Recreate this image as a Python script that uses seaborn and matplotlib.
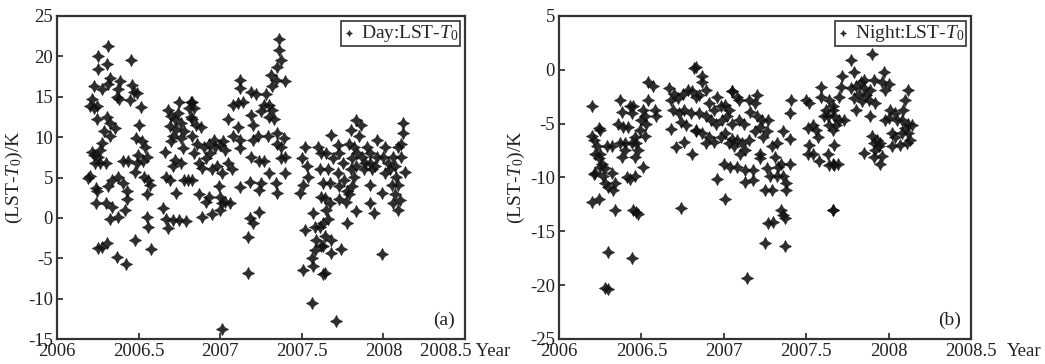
import matplotlib
matplotlib.use("Agg")
import matplotlib.pyplot as plt
import seaborn as sns
import pandas as pd

# ---------------- data ----------------
day_year = [
    2006.315, 2006.254, 2006.305, 2006.254, 2006.451, 2006.325, 2006.224, 2006.274, 2006.315, 2006.386,
    2006.376, 2006.366, 2006.38, 2006.457, 2006.47, 2006.488, 2006.447, 2006.213, 2006.203, 2006.224,
    2006.244, 2006.512, 2006.244, 2006.305, 2006.325, 2006.356, 2006.285, 2006.325, 2006.504, 2006.484,
    2006.518, 2006.539, 2006.274, 2006.264, 2006.213, 2006.224, 2006.254, 2006.234, 2006.264, 2006.30,
    2006.406, 2006.437, 2006.498, 2006.488, 2006.528, 2006.549, 2006.478, 2006.532, 2006.559, 2006.569,
    2006.553, 2006.193, 2006.203, 2006.24, 2006.244, 2006.315, 2006.335, 2006.376, 2006.406, 2006.427,
    2006.427, 2006.24, 2006.30, 2006.335, 2006.417, 2006.325, 2006.376, 2006.549, 2006.559, 2006.254,
    2006.274, 2006.309, 2006.478, 2006.579, 2006.37, 2006.423,
    2006.65, 2006.66, 2006.68, 2006.70, 2006.69, 2006.72, 2006.75, 2006.74, 2006.73, 2006.71,
    2006.76, 2006.78, 2006.81, 2006.82, 2006.83, 2006.67, 2006.69, 2006.71, 2006.72, 2006.76,
    2006.78, 2006.80, 2006.73, 2006.67, 2006.71, 2006.75, 2006.79, 2006.68, 2006.70, 2006.76, 2006.77,
    2006.83, 2006.84, 2006.82, 2006.85, 2006.88, 2006.83, 2006.86, 2006.84, 2006.90, 2006.93,
    2006.96, 2006.97, 2007.00, 2007.02, 2007.03, 2006.94, 2006.91, 2006.87, 2006.89, 2006.95,
    2006.98, 2007.01, 2007.05, 2007.07, 2006.83, 2006.87, 2006.91, 2006.93, 2006.99, 2007.00,
    2007.01, 2007.00, 2007.03, 2007.06, 2006.89, 2006.95, 2007.01, 2007.05, 2007.08, 2007.11,
    2007.11, 2007.08, 2007.12, 2007.12, 2007.12, 2007.14, 2007.12, 2007.12, 2007.19, 2007.22,
    2007.19, 2007.20, 2007.20, 2007.23, 2007.19, 2007.18, 2007.24, 2007.25, 2007.24, 2007.24,
    2007.18, 2007.20, 2007.17, 2007.17, 2007.25, 2007.27, 2007.28, 2007.30, 2007.30, 2007.32,
    2007.33, 2007.29, 2007.27, 2007.30, 2007.31, 2007.32, 2007.34, 2007.35, 2007.37, 2007.36,
    2007.36, 2007.40, 2007.35, 2007.35, 2007.37, 2007.39, 2007.40, 2007.37, 2007.34, 2007.35, 2007.40,
    2007.52, 2007.50, 2007.53, 2007.51, 2007.49, 2007.54, 2007.57, 2007.52, 2007.58, 2007.59,
    2007.58, 2007.56, 2007.51, 2007.57, 2007.62, 2007.63, 2007.56, 2007.60, 2007.62, 2007.61,
    2007.63, 2007.62, 2007.65, 2007.61, 2007.64,
    2007.68, 2007.72, 2007.65, 2007.69, 2007.73, 2007.75, 2007.66, 2007.72, 2007.67, 2007.73,
    2007.64, 2007.67, 2007.76, 2007.78, 2007.77, 2007.73, 2007.66, 2007.78, 2007.63, 2007.68,
    2007.63, 2007.68, 2007.74, 2007.64, 2007.71, 2007.83, 2007.86, 2007.80, 2007.85, 2007.79,
    2007.82, 2007.84, 2007.81, 2007.87, 2007.83, 2007.80, 2007.82, 2007.81, 2007.79, 2007.83,
    2007.90, 2007.92, 2007.89, 2007.88, 2007.92, 2007.93, 2007.96, 2007.96, 2007.95, 2007.92,
    2007.92, 2007.94, 2007.99, 2007.99, 2008.01, 2008.00, 2008.03, 2008.01, 2008.04, 2008.06,
    2008.07, 2008.05, 2008.07, 2008.06, 2008.09, 2008.10, 2008.11, 2008.12, 2008.12, 2008.11,
    2008.09, 2008.13, 2008.09, 2008.08,
]
day_val = [
    21.3, 20.0, 19.1, 18.4, 19.6, 17.3, 16.3, 15.9, 16.6, 16.9,
    15.9, 15.0, 14.7, 16.5, 15.6, 15.5, 14.6, 14.7, 13.8, 13.6,
    13.8, 13.7, 12.3, 12.5, 11.7, 11.1, 10.7, 10.1, 11.5, 9.9,
    9.5, 8.8, 9.3, 8.4, 8.2, 7.8, 7.6, 6.8, 6.8, 6.8,
    7.0, 7.0, 7.8, 6.8, 7.0, 7.6, 5.7, 5.1, 4.7, 4.1,
    2.9, 4.9, 5.2, 3.7, 3.3, 3.9, 4.7, 5.1, 4.3, 3.3,
    2.3, 1.9, 1.8, 1.4, 1.0, -0.2, 0.1, 0.1, -1.1, -3.7,
    -3.6, -3.1, -2.7, -3.8, -4.9, -5.7,
    1.2, 8.2, 13.4, 12.6, 11.4, 12.2, 14.4, 13.0, 11.0, 10.1,
    11.7, 10.7, 13.6, 14.4, 12.2, 5.1, 4.7, 6.4, 7.2, 6.8,
    4.7, 4.7, 3.1, -0.2, -0.3, -0.3, -0.4, -1.3, 9.5, 9.9, 8.7,
    14.4, 13.6, 12.5, 11.5, 11.3, 10.1, 9.2, 8.0, 8.8, 9.2,
    9.7, 8.8, 9.0, 9.5, 8.4, 8.0, 7.4, 6.8, 6.2, 6.0,
    6.4, 5.5, 6.8, 6.0, 4.7, 2.9, 2.0, 2.6, 3.9, 2.6,
    1.8, 1.0, 2.0, 1.9, 0.1, 0.5, -13.8, 12.3, 14.0, 14.2,
    11.3, 10.1, 9.7, 17.1, 16.1, 14.4, 8.6, 3.8, 15.6, 15.4,
    12.8, 11.5, 9.7, 10.1, 7.6, 4.5, 7.0, 4.3, 3.5, 0.7,
    0.0, -0.6, -2.4, -6.8, 13.2, 14.0, 15.4, 14.0, 12.5, 13.4,
    12.3, 10.1, 7.0, 5.5, 17.7, 16.3, 17.1, 18.7, 19.6, 20.8,
    22.2, 16.9, 10.5, 9.1, 8.8, 9.9, 7.6, 7.4, 4.3, 3.1, 5.5,
    8.8, 7.4, 6.4, 4.1, 3.1, 5.1, 0.6, -1.5, -1.1, -2.7,
    -4.0, -5.0, -6.4, -6.0, -3.5, -7.0, -10.5, 8.8, 8.0, 6.0,
    4.3, 2.6, 1.0, -1.1, -2.3,
    10.3, 9.0, 8.0, 7.4, 8.0, 6.8, 6.0, 5.5, 4.3, 3.9,
    2.4, 1.8, 4.7, 3.3, 2.0, 2.3, -0.2, -0.6, -0.6, -2.7,
    -3.5, -4.3, -3.9, -6.8, -12.8, 12.1, 11.5, 10.9, 10.1, 9.2,
    8.8, 8.0, 7.4, 7.6, 6.4, 6.0, 5.1, 3.9, 2.9, 0.8,
    8.8, 8.0, 6.8, 6.0, 6.8, 6.0, 9.7, 7.6, 6.4, 4.1,
    1.8, 0.6, 3.1, -4.5, 8.8, 7.6, 6.8, 5.5, 6.0, 7.6,
    6.4, 4.1, 2.9, 1.8, 1.0, 2.2, 7.6, 11.7, 10.5, 9.2,
    8.8, 5.7, 4.1, 5.1,
]

night_year = [
    2006.20, 2006.20, 2006.24, 2006.21, 2006.22, 2006.20, 2006.21, 2006.24, 2006.25, 2006.23,
    2006.22, 2006.25, 2006.24, 2006.26, 2006.25, 2006.28, 2006.29, 2006.32, 2006.27, 2006.28,
    2006.30, 2006.33, 2006.32, 2006.34, 2006.30, 2006.28, 2006.30, 2006.34, 2006.37, 2006.38,
    2006.36, 2006.39, 2006.42, 2006.37, 2006.40, 2006.38, 2006.40, 2006.41, 2006.43, 2006.43,
    2006.44, 2006.45, 2006.46, 2006.44, 2006.47, 2006.49, 2006.48, 2006.46, 2006.51, 2006.46,
    2006.45, 2006.47, 2006.48, 2006.44, 2006.50, 2006.52, 2006.51, 2006.54, 2006.54, 2006.57,
    2006.58, 2006.59, 2006.53, 2006.52,
    2006.67, 2006.70, 2006.68, 2006.72, 2006.75, 2006.78, 2006.81, 2006.83, 2006.82, 2006.69,
    2006.73, 2006.76, 2006.80, 2006.74, 2006.77, 2006.68, 2006.83, 2006.76, 2006.71, 2006.81,
    2006.74,
    2006.83, 2006.87, 2006.87, 2006.89, 2006.85, 2006.91, 2006.94, 2006.96, 2006.98, 2007.01,
    2007.03, 2007.05, 2007.08, 2006.85, 2006.89, 2006.92, 2006.95, 2006.99, 2007.02, 2007.05,
    2007.09, 2007.12, 2006.83, 2006.87, 2006.91, 2006.89, 2006.94, 2006.98, 2007.01, 2007.03,
    2007.06, 2007.05, 2007.08, 2007.11, 2007.13, 2007.10, 2007.15, 2007.00, 2007.04, 2007.08,
    2007.13, 2006.96, 2007.13, 2007.18, 2007.18, 2007.01, 2007.15, 2007.20, 2007.19, 2007.16,
    2007.20, 2007.23, 2007.27, 2007.22, 2007.19, 2007.24, 2007.26, 2007.22, 2007.22, 2007.26,
    2007.29, 2007.32, 2007.31, 2007.28, 2007.33, 2007.35, 2007.36, 2007.38, 2007.38, 2007.40,
    2007.32, 2007.25, 2007.29, 2007.41, 2007.40, 2007.36, 2007.40, 2007.35, 2007.36, 2007.37,
    2007.27, 2007.30, 2007.25, 2007.37, 2007.14, 2007.05, 2007.09,
    2007.50, 2007.52, 2007.51, 2007.54, 2007.56, 2007.57, 2007.52, 2007.51, 2007.54, 2007.59,
    2007.59, 2007.62, 2007.63, 2007.61, 2007.64, 2007.58, 2007.63, 2007.66, 2007.66, 2007.66,
    2007.90, 2007.77, 2007.79, 2007.72, 2007.71, 2007.70, 2007.77, 2007.80, 2007.83, 2007.85,
    2007.85, 2007.82, 2007.79, 2007.86, 2007.89, 2007.88, 2007.91, 2007.97, 2007.96, 2008.00,
    2007.98, 2007.80, 2007.84, 2007.92, 2007.89, 2007.64, 2007.66, 2007.67, 2007.70, 2007.73,
    2007.68, 2007.66, 2007.67, 2007.64, 2007.67, 2007.69, 2007.66, 2008.12, 2008.10, 2008.09,
    2008.01, 2008.04, 2008.00, 2007.98, 2008.05, 2008.08, 2008.12, 2008.14, 2008.10, 2008.02,
    2008.04, 2008.08, 2008.12, 2008.13, 2008.11, 2008.07, 2008.02, 2007.90, 2007.91, 2007.93,
    2007.95, 2007.92, 2007.94, 2007.96, 2007.91, 2007.85, 2007.95,
]
night_val = [
    -3.4, -12.3, -12.0, -9.7, -9.6, -6.1, -6.5, -5.4, -5.6, -7.1,
    -7.8, -7.8, -8.2, -8.7, -9.0, -9.1, -7.1, -7.1, -9.9, -10.5,
    -10.9, -11.2, -9.6, -10.5, -16.9, -20.3, -20.4, -13.0, -2.8, -3.9,
    -5.0, -5.3, -5.3, -6.8, -6.8, -8.1, -7.4, -10.0, -10.1, -3.4,
    -4.0, -3.4, -6.2, -6.8, -6.8, -5.6, -7.4, -8.1, -9.0, -9.9,
    -13.0, -13.2, -13.4, -17.5, -4.7, -4.3, -3.7, -2.8, -1.1, -1.5,
    -3.7, -4.3, -5.0, -6.1,
    -1.7, -2.2, -2.8, -2.6, -2.2, -1.9, -2.0, -2.5, 0.2, -3.7,
    -4.0, -3.7, -4.0, -4.8, -5.1, -5.5, -5.7, -6.7, -7.2, -7.8,
    -12.8,
    0.3, -0.6, -1.1, -1.9, -2.3, -3.1, -3.7, -2.5, -3.4, -3.3,
    -3.7, -2.0, -2.5, -4.0, -4.3, -4.7, -5.0, -4.7, -4.3, -5.0,
    -4.7, -5.0, -5.6, -5.9, -6.2, -6.8, -6.7, -6.2, -5.9, -6.8,
    -7.1, -6.4, -6.5, -6.8, -7.4, -7.8, -6.5, -8.7, -9.0, -9.0,
    -9.3, -10.1, -10.4, -10.2, -9.3, -12.0, -2.8, -2.3, -3.1, -3.9,
    -4.3, -4.7, -4.7, -5.3, -5.7, -6.2, -5.7, -7.8, -8.2, -9.1,
    -7.1, -6.8, -8.1, -9.9, -9.0, -8.7, -9.9, -10.5, -11.2, -8.7,
    -9.9, -11.2, -11.2, -2.8, -4.0, -5.7, -6.4, -13.0, -13.5, -13.8,
    -14.2, -14.1, -16.1, -16.4, -19.3, -2.0, -2.8,
    -2.8, -3.1, -5.4, -5.1, -5.6, -6.2, -7.0, -7.8, -7.8, -1.6,
    -2.5, -3.7, -4.3, -4.3, -5.1, -8.5, -7.8, -8.7, -13.0, -3.4,
    1.5, 0.9, -0.2, -0.6, -1.6, -2.5, -1.7, -1.5, -1.1, -0.9,
    -1.7, -2.2, -2.6, -2.3, -1.9, -2.8, -0.9, -0.2, -1.1, -1.3,
    -1.9, -3.7, -2.9, -3.1, -4.3, -2.8, -3.7, -4.3, -4.7, -4.7,
    -5.1, -5.6, -7.0, -8.8, -8.8, -8.7, -13.0, -1.9, -2.8, -3.7,
    -3.7, -4.0, -4.5, -4.7, -4.7, -4.7, -5.0, -5.1, -5.4, -5.9,
    -6.2, -5.9, -5.9, -6.5, -6.8, -7.0, -7.1, -6.1, -6.8, -6.5,
    -6.8, -7.4, -7.1, -8.0, -8.1, -7.7, -8.7,
]

x_ticks = [2006, 2006.5, 2007, 2007.5, 2008, 2008.5]
x_ticklabels = ["2006", "2006.5", "2007", "2007.5", "2008", "2008.5"]
day_yticks = [-15, -10, -5, 0, 5, 10, 15, 20, 25]
night_yticks = [-25, -20, -15, -10, -5, 0, 5]

# ---------------- style ----------------
sns.set_theme(style="white")
plt.rcParams["font.family"] = ["Liberation Serif", "DejaVu Serif"]
plt.rcParams["mathtext.fontset"] = "custom"
plt.rcParams["mathtext.rm"] = "Liberation Serif"
plt.rcParams["mathtext.it"] = "Liberation Serif:italic"

fig = plt.figure(figsize=(10.45, 3.64), dpi=100)
W, H = 1045, 364
ax_a = fig.add_axes([57 / W, (H - 339) / H, (465 - 57) / W, (339 - 16) / H])
ax_b = fig.add_axes([559 / W, (H - 339) / H, (971 - 559) / W, (339 - 16) / H])

star = (4, 1, 0)
ink = "#111111"
df_day = pd.DataFrame({"year": day_year, "val": day_val})
df_night = pd.DataFrame({"year": night_year, "val": night_val})

sns.scatterplot(data=df_day, x="year", y="val", ax=ax_a, marker=star, s=80,
                color=ink, linewidth=0.3, edgecolor=ink, alpha=0.88, label="Day:LST-$T_0$")
sns.scatterplot(data=df_night, x="year", y="val", ax=ax_b, marker=star, s=80,
                color=ink, linewidth=0.3, edgecolor=ink, alpha=0.88, label="Night:LST-$T_0$")

for ax, yt, ylim, tag in [(ax_a, day_yticks, (-15, 25), "(a)"),
                          (ax_b, night_yticks, (-25, 5), "(b)")]:
    ax.set_xlim(2006, 2008.5)
    ax.set_ylim(*ylim)
    ax.set_xticks(x_ticks)
    ax.set_yticks(yt)
    ax.set_yticklabels([str(v) for v in yt])
    ax.set_xlabel("")
    ax.set_ylabel("(LST-$T_0$)/K", fontsize=14, labelpad=2, color="#222222")
    ax.tick_params(axis="both", direction="in", length=4, width=1.2,
                   labelsize=13.5, colors="#222222", pad=3,
                   top=False, right=False, bottom=True, left=True)
    for sp in ax.spines.values():
        sp.set_visible(True)
        sp.set_linewidth(1.6)
        sp.set_color("#333333")
    ax.grid(False)
    ax.text(0.975, 0.03, tag, transform=ax.transAxes, ha="right", va="bottom",
            fontsize=14, color="#222222")
    leg = ax.legend(loc="upper right", fontsize=14, frameon=True, fancybox=False,
                    borderpad=0.1, borderaxespad=0.25, handlelength=0.6,
                    handletextpad=0.3, markerscale=0.5, labelspacing=0.1)
    leg.get_frame().set_edgecolor("#333333")
    leg.get_frame().set_linewidth(1.2)
    leg.get_frame().set_alpha(1)

ax_a.set_xticklabels(x_ticklabels[:-1] + ["2008.5 Year"])
ax_b.set_xticklabels(x_ticklabels)
ax_b.text(1.088, -0.012, "Year", transform=ax_b.transAxes,
          ha="left", va="top", fontsize=13.5, color="#222222")

fig.savefig("out.png", dpi=100)
